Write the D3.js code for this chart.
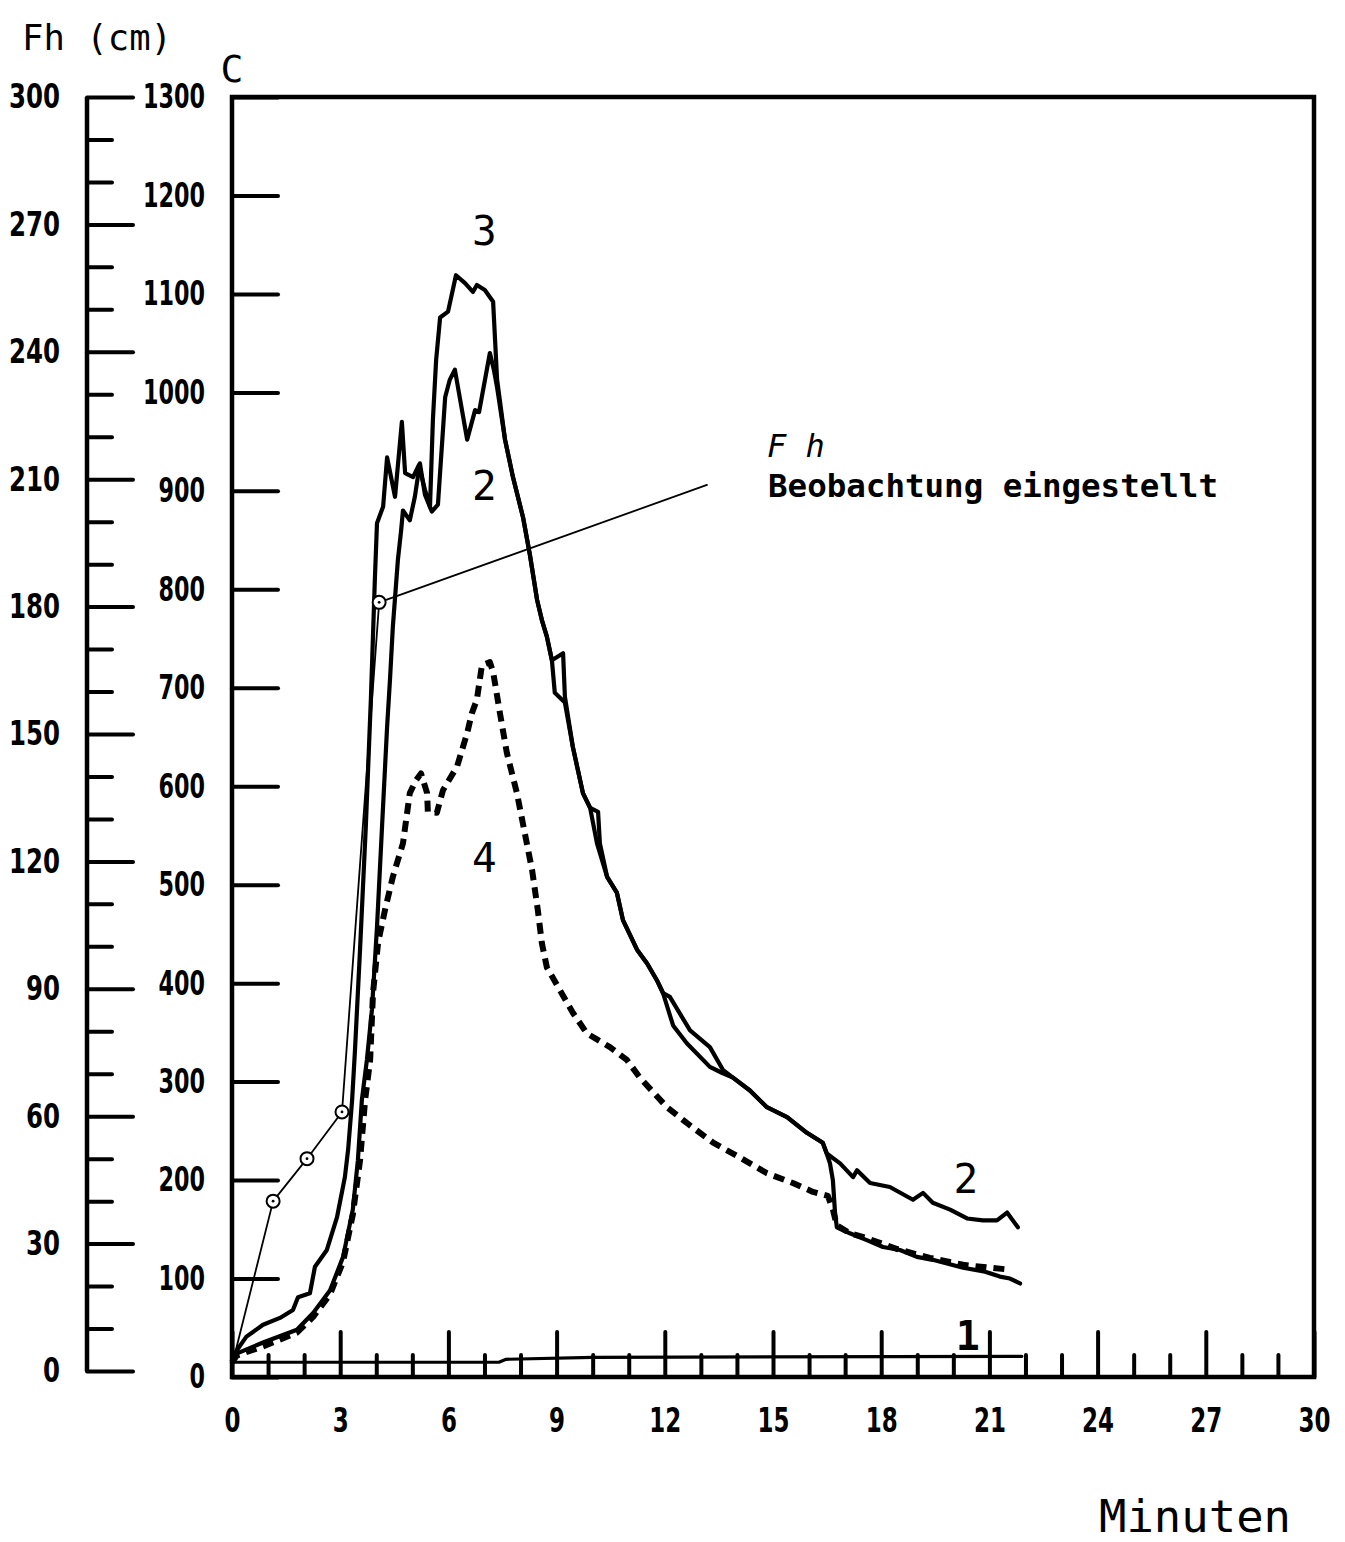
<!DOCTYPE html>
<html>
<head>
<meta charset="utf-8">
<script src="https://cdn.jsdelivr.net/npm/d3@7"></script>
<style>
  body { margin: 0; background: #fff; }
  svg { display: block; }
</style>
</head>
<body>
<svg id="chart" width="1345" height="1542"></svg>
<script>
// ---- data: time in minutes, C in the plot's unit, Fh in cm ----
const minuteTicks = d3.range(0, 31, 3);
const cTicks = d3.range(0, 1301, 100);
const fhTicks = d3.range(0, 301, 30);

// curve 1: near the floor
const curve1 = [[0, 15], [7.4, 15], [7.6, 18], [10, 20], [21.9, 21]];

// curve 2: solid, second peak ~1040
const curve2 = [
  [0, 15], [0.14, 24], [0.86, 35], [1.8, 48], [2.25, 65], [2.72, 88], [3.08, 122], [3.35, 170],
  [3.49, 220], [3.6, 281], [3.74, 322], [3.88, 373], [4.02, 457], [4.16, 559], [4.3, 660],
  [4.38, 708], [4.46, 762], [4.6, 830], [4.69, 860], [4.74, 880], [4.93, 870], [5.07, 894],
  [5.21, 928], [5.35, 896], [5.54, 879], [5.71, 886], [5.91, 995], [6.04, 1013], [6.18, 1023],
  [6.52, 952], [6.74, 982], [6.85, 980], [7.15, 1040], [7.26, 1023], [7.35, 1005], [7.57, 952],
  [7.79, 914], [8.07, 873], [8.26, 835], [8.46, 789], [8.59, 769], [8.73, 752], [8.87, 728],
  [9.18, 735], [9.23, 691], [9.45, 640], [9.73, 593], [9.93, 578], [10.15, 574], [10.2, 542],
  [10.4, 508], [10.67, 492], [10.84, 464], [11.23, 434], [11.51, 420], [11.78, 403], [11.95, 390],
  [12.23, 357], [12.61, 339], [13.25, 315], [13.58, 309], [13.89, 304], [14.36, 291], [14.83, 274],
  [15.39, 264], [15.94, 248], [16.38, 238], [16.49, 227], [16.86, 217], [17.22, 203], [17.33, 210],
  [17.69, 197], [18.24, 193], [18.88, 180], [19.16, 187], [19.43, 177], [19.91, 170], [20.38, 161],
  [20.82, 159], [21.21, 159], [21.49, 167], [21.79, 152]
];

// curve 3: solid, highest peak ~1120, drops at ~16.7 min
const curve3 = [
  [0, 17], [0.13, 27], [0.4, 41], [0.86, 53], [1.33, 60], [1.69, 68], [1.83, 81], [2.16, 85],
  [2.3, 112], [2.63, 129], [2.91, 162], [3.13, 203], [3.22, 231], [3.33, 281], [3.41, 332],
  [3.55, 434], [3.71, 559], [3.85, 688], [3.96, 809], [4.02, 867], [4.19, 884], [4.3, 934],
  [4.52, 894], [4.71, 970], [4.8, 918], [5.02, 914], [5.18, 926], [5.35, 901], [5.49, 884],
  [5.57, 972], [5.66, 1033], [5.77, 1076], [5.99, 1082], [6.21, 1119], [6.46, 1111], [6.68, 1102],
  [6.79, 1109], [7.01, 1104], [7.24, 1092], [7.35, 1013], [7.57, 952], [7.79, 914], [8.07, 873],
  [8.26, 835], [8.46, 789], [8.59, 769], [8.73, 752], [8.87, 728], [8.95, 695], [9.23, 685],
  [9.45, 640], [9.73, 593], [9.93, 578], [10.12, 542], [10.4, 508], [10.67, 492], [10.84, 464],
  [11.23, 434], [11.51, 420], [11.78, 403], [11.95, 390], [12.14, 386], [12.7, 352], [13.25, 335],
  [13.61, 312], [13.89, 304], [14.36, 291], [14.83, 274], [15.39, 264], [15.94, 248], [16.38, 238],
  [16.49, 227], [16.58, 217], [16.66, 200], [16.72, 167], [16.77, 152], [17.13, 146], [17.6, 139],
  [18.05, 132], [18.52, 129], [18.99, 122], [19.43, 119], [20.27, 111], [20.88, 107], [21.29, 102],
  [21.57, 100], [21.85, 95]
];

// curve 4: dashed, peak ~725
const curve4 = [
  [0, 15], [0.14, 22], [0.86, 31], [1.8, 45], [2.25, 61], [2.72, 84], [3.08, 117], [3.35, 165],
  [3.55, 220], [3.69, 281], [3.83, 322], [3.91, 390], [4.05, 441], [4.24, 474], [4.46, 508],
  [4.74, 542], [4.93, 593], [5.1, 606], [5.24, 613], [5.41, 593], [5.43, 574], [5.68, 573],
  [5.85, 596], [6.24, 620], [6.52, 654], [6.65, 674], [6.79, 688], [6.93, 723], [7.15, 726],
  [7.24, 716], [7.43, 674], [7.62, 634], [7.9, 593], [8.12, 552], [8.32, 515], [8.48, 474],
  [8.59, 441], [8.73, 416], [9.09, 393], [9.45, 370], [9.84, 349], [10.48, 335], [10.95, 322],
  [11.31, 304], [12.06, 274], [12.61, 258], [13.34, 238], [14.08, 223], [14.83, 207], [15.55, 197],
  [16.11, 188], [16.52, 184], [16.66, 170], [16.77, 154], [17.13, 146], [17.6, 141], [18.44, 130],
  [19.35, 121], [20.27, 114], [21.01, 111], [21.57, 109]
];

// Fh observations (minutes, cm); the first point is the start, the rest are marked
const fhObs = [[0.05, 3], [1.14, 40], [2.08, 50], [3.05, 61], [4.08, 181]];
// end of the leader from the last Fh observation to its note (minutes, C)
const fhNoteAnchor = [13.17, 906];

// curve numbers, placed by baseline (minutes, C)
const curveLabels = [
  { text: "3", t: 7.0, c: 1150 },
  { text: "2", t: 7.0, c: 891 },
  { text: "4", t: 7.0, c: 513 },
  { text: "2", t: 20.35, c: 187 },
];

// ---- scales ----
const svg = d3.select("#chart");
const x = d3.scaleLinear().domain([0, 30]).range([232, 1314]);
const yC = d3.scaleLinear().domain([0, 1300]).range([1377, 97]);
const yF = d3.scaleLinear().domain([0, 300]).range([1371, 97]);

const MONO = "'DejaVu Sans Mono', 'Liberation Mono', monospace";
const DIGITS = "'DejaVu Sans', 'Liberation Sans', sans-serif";
const fmt = d3.format("d");

function styleAxis(g, charW) {
  g.attr("font-family", DIGITS).attr("font-size", 34).attr("font-weight", "bold");
  g.select(".domain").remove();
  g.selectAll(".tick line").attr("stroke", "#000").attr("stroke-width", 4).attr("stroke-linecap", "round");
  g.selectAll(".tick text")
    .attr("fill", "#000")
    .each(function () {
      const t = d3.select(this);
      const s = t.text();
      if (s.length) t.attr("textLength", s.length * charW).attr("lengthAdjust", "spacingAndGlyphs");
    });
}

// ---- Fh axis (left) ----
const fhX = 87;
svg.append("g")
  .attr("transform", `translate(${fhX},0)`)
  .call(d3.axisLeft(yF).tickValues(d3.range(0, 301, 10).filter(v => v % 30 !== 0))
    .tickSizeInner(-25).tickSizeOuter(0).tickFormat(""))
  .call(g => styleAxis(g, 16));
svg.append("g")
  .attr("transform", `translate(${fhX},0)`)
  .call(d3.axisLeft(yF).tickValues(fhTicks).tickFormat(fmt)
    .tickSizeInner(-46).tickSizeOuter(0).tickPadding(27))
  .call(g => styleAxis(g, 17));
svg.append("line")
  .attr("x1", fhX).attr("x2", fhX).attr("y1", yF(300)).attr("y2", yF(0))
  .attr("stroke", "#000").attr("stroke-width", 4.5);

// ---- C axis (frame left) ----
svg.append("g")
  .attr("transform", `translate(${x(0)},0)`)
  .call(d3.axisLeft(yC).tickValues(cTicks).tickFormat(fmt)
    .tickSizeInner(-46).tickSizeOuter(0).tickPadding(27))
  .call(g => styleAxis(g, 15.5));

// ---- minute axis (bottom) ----
svg.append("g")
  .attr("transform", `translate(0,${yC(0)})`)
  .call(d3.axisBottom(x).tickValues(d3.range(1, 30).filter(v => v % 3 !== 0))
    .tickSizeInner(-22).tickSizeOuter(0).tickFormat(""))
  .call(g => styleAxis(g, 16));
svg.append("g")
  .attr("transform", `translate(0,${yC(0)})`)
  .call(d3.axisBottom(x).tickValues(minuteTicks).tickFormat(fmt)
    .tickSizeInner(-45).tickSizeOuter(0).tickPadding(31))
  .call(g => styleAxis(g, 16));

// ---- frame ----
svg.append("rect")
  .attr("x", x(0)).attr("y", yC(1300))
  .attr("width", x(30) - x(0)).attr("height", yC(0) - yC(1300))
  .attr("fill", "none").attr("stroke", "#000").attr("stroke-width", 4.5);

// ---- curves ----
const lineC = d3.line().x(d => x(d[0])).y(d => yC(d[1]));
const lineF = d3.line().x(d => x(d[0])).y(d => yF(d[1]));

const plot = svg.append("g").attr("fill", "none").attr("stroke", "#000")
  .attr("stroke-linejoin", "round").attr("stroke-linecap", "round");

plot.append("path").attr("d", lineC(curve1)).attr("stroke-width", 3.2);
plot.append("path").attr("d", lineC(curve4)).attr("stroke-width", 6)
  .attr("stroke-dasharray", "11,7").attr("stroke-linecap", "butt");
plot.append("path").attr("d", lineC(curve2)).attr("stroke-width", 4.2);
plot.append("path").attr("d", lineC(curve3)).attr("stroke-width", 4.2);

// Fh observations
plot.append("path").attr("d", lineF(fhObs)).attr("stroke-width", 1.8);
const last = fhObs[fhObs.length - 1];
plot.append("line")
  .attr("x1", x(last[0])).attr("y1", yF(last[1]))
  .attr("x2", x(fhNoteAnchor[0])).attr("y2", yC(fhNoteAnchor[1]))
  .attr("stroke-width", 1.8);
const marks = svg.append("g").selectAll("g").data(fhObs.slice(1)).join("g")
  .attr("transform", d => `translate(${x(d[0])},${yF(d[1])})`);
marks.append("circle").attr("r", 6.5).attr("fill", "#fff").attr("stroke", "#000").attr("stroke-width", 2);
marks.append("circle").attr("r", 1.4).attr("fill", "#000");

// ---- text ----
svg.append("text").attr("x", 22).attr("y", 50)
  .attr("font-family", MONO).attr("font-size", 35)
  .attr("textLength", 150).attr("lengthAdjust", "spacingAndGlyphs")
  .text("Fh (cm)");
svg.append("text").attr("x", x(0)).attr("y", 82).attr("text-anchor", "middle")
  .attr("font-family", MONO).attr("font-size", 38).text("C");

svg.append("g").selectAll("text").data(curveLabels).join("text")
  .attr("x", d => x(d.t)).attr("y", d => yC(d.c)).attr("text-anchor", "middle")
  .attr("font-family", MONO).attr("font-size", 41)
  .text(d => d.text);
svg.append("text").attr("x", x(20.4)).attr("y", yC(27)).attr("text-anchor", "middle")
  .attr("font-family", MONO).attr("font-size", 40).attr("font-weight", "bold").text("1");

svg.append("text").attr("x", 767).attr("y", 457)
  .attr("font-family", MONO).attr("font-size", 32).attr("font-style", "italic")
  .text("F h");
svg.append("text").attr("x", 768).attr("y", 497)
  .attr("font-family", MONO).attr("font-size", 32).attr("font-weight", "bold")
  .attr("textLength", 450).attr("lengthAdjust", "spacingAndGlyphs")
  .text("Beobachtung eingestellt");

svg.append("text").attr("x", 1099).attr("y", 1532)
  .attr("font-family", MONO).attr("font-size", 44)
  .attr("textLength", 192).attr("lengthAdjust", "spacingAndGlyphs")
  .text("Minuten");
</script>
</body>
</html>
